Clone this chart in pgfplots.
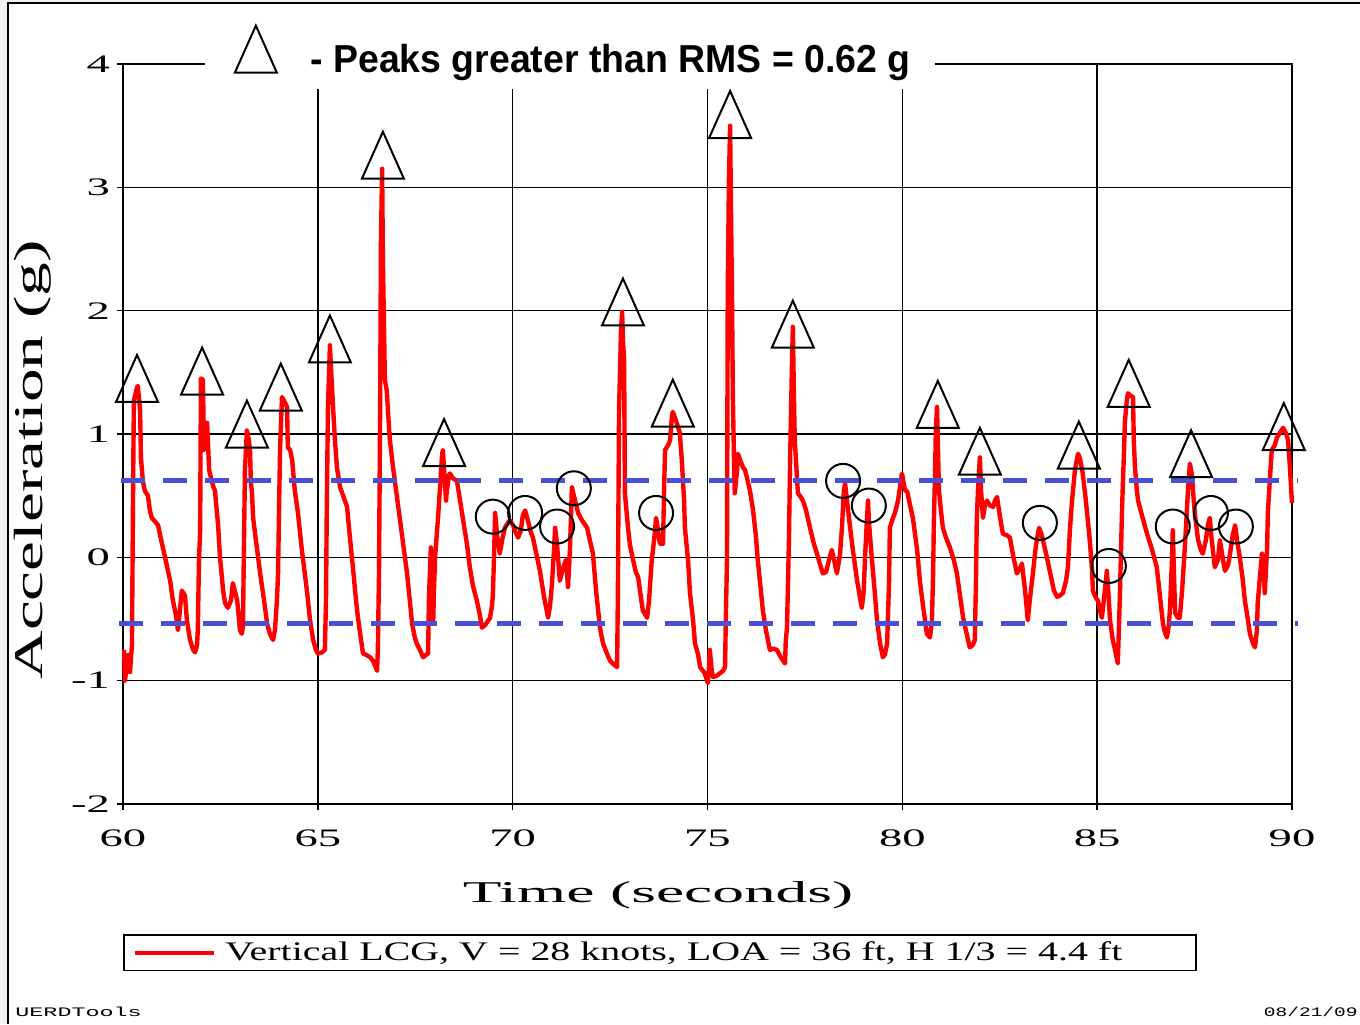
\documentclass[border=0pt]{standalone}
\usepackage{fontspec}
\setmainfont{Liberation Serif}
\newfontfamily\tickfont[FakeStretch=1.85]{Liberation Serif}
\newfontfamily\xlabfont[FakeStretch=2.1]{Liberation Serif}
\newfontfamily\ylabfont[FakeStretch=1.65]{Liberation Serif}
\newfontfamily\legfont[FakeStretch=1.49]{Liberation Serif}
\newfontfamily\titlefont[FakeStretch=0.96]{Liberation Sans}
\newfontfamily\footfont[FakeStretch=1.5]{Liberation Mono}
\newfontfamily\footwfont[FakeStretch=1.8]{Liberation Mono}
\usepackage{pgfplots}
\pgfplotsset{compat=1.18}
\definecolor{rmsblue}{RGB}{72,80,216}
\pgfdeclareplotmark{peaktri}{%
  \pgfpathmoveto{\pgfqpoint{-10.5pt}{0pt}}%
  \pgfpathlineto{\pgfqpoint{10.5pt}{0pt}}%
  \pgfpathlineto{\pgfqpoint{0pt}{23.5pt}}%
  \pgfpathclose\pgfusepathqstroke}
\begin{document}
\begin{tikzpicture}
\useasboundingbox (-61.5pt,-110pt) rectangle (618.5pt,402pt);
\fill[black!6] (-61.5pt,-110pt) rectangle (-57.5pt,402pt);
\fill[black!6] (-61.5pt,400.5pt) rectangle (618.5pt,402pt);
\draw[black,line width=1pt] (-57.5pt,-110pt) -- (-57.5pt,400.5pt) -- (618.5pt,400.5pt);
\begin{axis}[
  at={(0pt,0pt)}, anchor=south west,
  scale only axis, width=584.5pt, height=370pt,
  xmin=60, xmax=90, ymin=-2, ymax=4,
  xtick={60,65,...,90}, ytick={-2,-1,0,1,2,3,4},
  tick pos=left, tick align=outside, major tick length=3pt,
  grid=major, grid style={black, line width=0.8pt},
  axis line style={black, line width=0.8pt},
  tick style={black, line width=0.8pt},
  clip=false,
  /pgf/number format/assume math mode=true,
  ticklabel style={font=\tickfont\fontsize{12.6}{12.6}\selectfont},
  xticklabel style={yshift=-6.5pt},
  legend style={at={(0,-0.1757)}, anchor=north west, draw=black, line width=0.8pt,
    fill=white, inner xsep=4.5pt, inner ysep=3.5pt, column sep=4.5pt,
    nodes={inner sep=0pt}, cells={anchor=west},
    font=\legfont\fontsize{13.4}{13.4}\selectfont},
  legend image code/.code={\draw[red, line width=2.2pt] (0pt,0pt) -- (39.5pt,0pt);},
]
% white box behind the title
\fill[white] (axis cs:62.10,3.80) rectangle (axis cs:80.84,4.27);

\addplot[red, line width=2.2pt, line join=round] coordinates {
(60.03,-0.75) (60.05,-1.00) (60.13,-0.79) (60.18,-0.93) (60.23,-0.71) (60.26,0.62) (60.28,1.27) (60.36,1.38) (60.38,1.39) (60.44,1.19)
(60.46,0.81) (60.51,0.62) (60.56,0.54) (60.64,0.50) (60.69,0.38) (60.74,0.32) (60.85,0.28) (60.90,0.26) (60.98,0.14) (61.08,0)
(61.21,-0.19) (61.28,-0.35) (61.36,-0.47) (61.41,-0.59) (61.46,-0.43) (61.51,-0.27) (61.59,-0.31) (61.64,-0.51) (61.72,-0.67) (61.80,-0.75)
(61.85,-0.77) (61.90,-0.71) (61.92,-0.59) (61.95,-0.02) (61.98,0.22) (62.00,1.45) (62.05,1.44) (62.08,0.87) (62.13,0.95) (62.16,1.09)
(62.21,0.71) (62.23,0.68) (62.31,0.58) (62.36,0.54) (62.44,0.26) (62.49,0) (62.57,-0.27) (62.62,-0.37) (62.69,-0.41) (62.77,-0.35)
(62.82,-0.21) (62.87,-0.27) (62.93,-0.35) (62.98,-0.51) (63.00,-0.59) (63.05,-0.62) (63.08,-0.55) (63.10,0) (63.13,0.71) (63.18,1.03)
(63.23,0.95) (63.26,0.87) (63.28,0.62) (63.31,0.52) (63.34,0.32) (63.41,0.14) (63.52,-0.13) (63.62,-0.35) (63.70,-0.54) (63.77,-0.62)
(63.85,-0.67) (63.90,-0.59) (63.95,-0.35) (63.98,-0.13) (64.00,0.30) (64.03,0.87) (64.08,1.30) (64.13,1.27) (64.21,1.22) (64.23,0.89)
(64.29,0.87) (64.34,0.79) (64.41,0.54) (64.49,0.36) (64.59,0.06) (64.72,-0.27) (64.80,-0.51) (64.88,-0.67) (64.95,-0.75) (65.00,-0.78)
(65.11,-0.77) (65.18,-0.75) (65.21,-0.35) (65.23,0.41) (65.26,1.22) (65.31,1.72) (65.34,1.52) (65.39,1.22) (65.44,0.95) (65.49,0.73)
(65.57,0.57) (65.65,0.50) (65.75,0.41) (65.83,0.14) (65.90,-0.08) (65.98,-0.35) (66.03,-0.49) (66.11,-0.67) (66.16,-0.78) (66.24,-0.79)
(66.34,-0.81) (66.42,-0.84) (66.47,-0.88) (66.52,-0.92) (66.54,-0.75) (66.57,-0.13) (66.60,1.27) (66.62,2.57) (66.65,3.15) (66.67,2.41)
(66.70,1.84) (66.72,1.44) (66.77,1.35) (66.83,1.03) (66.85,0.95) (66.93,0.73) (67.01,0.54) (67.11,0.30) (67.21,0.06) (67.29,-0.13)
(67.36,-0.35) (67.42,-0.54) (67.49,-0.65) (67.54,-0.70) (67.62,-0.75) (67.70,-0.81) (67.78,-0.79) (67.83,-0.78) (67.85,-0.35) (67.90,0.08)
(67.93,-0.35) (67.96,-0.54) (67.98,-0.27) (68.01,0) (68.06,0.22) (68.08,0.30) (68.13,0.54) (68.19,0.84) (68.21,0.87) (68.24,0.71)
(68.29,0.46) (68.31,0.54) (68.37,0.67) (68.39,0.68) (68.47,0.64) (68.57,0.62) (68.65,0.46) (68.72,0.32) (68.83,0.10) (68.90,-0.08)
(68.98,-0.23) (69.08,-0.35) (69.16,-0.47) (69.21,-0.57) (69.29,-0.55) (69.42,-0.49) (69.47,-0.39) (69.49,-0.32) (69.52,-0.02) (69.55,0.36)
(69.60,0.18) (69.67,0.03) (69.73,0.14) (69.80,0.24) (69.88,0.28) (69.93,0.30) (70.01,0.26) (70.08,0.20) (70.14,0.16) (70.21,0.22)
(70.26,0.34) (70.32,0.38) (70.39,0.30) (70.47,0.20) (70.52,0.16) (70.60,0.04) (70.70,-0.11) (70.80,-0.31) (70.91,-0.49) (70.96,-0.39)
(71.01,-0.21) (71.06,0.06) (71.09,0.24) (71.14,0.10) (71.21,-0.19) (71.29,-0.09) (71.37,-0.02) (71.42,-0.24) (71.47,0.06) (71.52,0.57)
(71.57,0.50) (71.68,0.36) (71.78,0.30) (71.91,0.24) (71.98,0.14) (72.06,0.03) (72.14,-0.27) (72.24,-0.57) (72.32,-0.70) (72.42,-0.78)
(72.50,-0.84) (72.60,-0.87) (72.68,-0.89) (72.70,-0.29) (72.73,1.19) (72.78,1.84) (72.81,1.99) (72.83,1.76) (72.86,1.60) (72.88,0.52)
(72.96,0.24) (73.01,0.10) (73.09,-0.02) (73.16,-0.12) (73.22,-0.16) (73.29,-0.32) (73.34,-0.43) (73.45,-0.49) (73.50,-0.35) (73.57,-0.02)
(73.63,0.14) (73.68,0.32) (73.73,0.22) (73.78,0.11) (73.86,0.11) (73.88,0.46) (73.91,0.87) (73.99,0.91) (74.04,0.95) (74.09,1.15)
(74.11,1.18) (74.19,1.11) (74.29,1.01) (74.34,0.79) (74.40,0.46) (74.42,0.24) (74.50,-0.02) (74.55,-0.29) (74.63,-0.51) (74.68,-0.70)
(74.76,-0.79) (74.81,-0.89) (74.88,-0.92) (74.93,-0.94) (75.01,-1.02) (75.04,-0.88) (75.06,-0.75) (75.11,-0.92) (75.14,-0.97) (75.24,-0.96)
(75.32,-0.94) (75.40,-0.92) (75.45,-0.89) (75.47,-0.51) (75.50,-0.02) (75.52,2.19) (75.55,3.06) (75.58,3.50) (75.60,2.90) (75.63,2.08)
(75.65,1.33) (75.68,0.79) (75.70,0.52) (75.76,0.71) (75.78,0.84) (75.86,0.77) (75.91,0.73) (75.96,0.71) (76.01,0.65) (76.09,0.54)
(76.17,0.38) (76.24,0.18) (76.29,-0.02) (76.37,-0.27) (76.42,-0.43) (76.50,-0.59) (76.60,-0.75) (76.68,-0.74) (76.78,-0.75) (76.88,-0.81)
(76.99,-0.86) (77.01,-0.67) (77.04,-0.57) (77.09,0.14) (77.12,0.79) (77.17,1.60) (77.19,1.87) (77.22,1.27) (77.24,0.95) (77.27,0.79)
(77.32,0.52) (77.37,0.50) (77.45,0.46) (77.53,0.38) (77.63,0.24) (77.73,0.11) (77.81,0.03) (77.89,-0.06) (77.96,-0.13) (78.04,-0.12)
(78.12,-0.02) (78.19,0.06) (78.25,-0.02) (78.32,-0.13) (78.40,0.02) (78.45,0.24) (78.50,0.54) (78.53,0.60) (78.58,0.46) (78.66,0.24)
(78.73,0.06) (78.84,-0.19) (78.91,-0.32) (78.96,-0.41) (79.01,-0.27) (79.04,-0.02) (79.09,0.30) (79.12,0.46) (79.14,0.30) (79.22,-0.02)
(79.30,-0.31) (79.35,-0.51) (79.43,-0.70) (79.50,-0.81) (79.55,-0.79) (79.61,-0.70) (79.66,-0.19) (79.68,0.24) (79.76,0.32) (79.81,0.36)
(79.89,0.46) (79.94,0.57) (79.99,0.68) (80.07,0.54) (80.12,0.54) (80.20,0.42) (80.27,0.32) (80.38,0.06) (80.45,-0.19) (80.53,-0.39)
(80.63,-0.62) (80.71,-0.65) (80.76,-0.51) (80.79,-0.13) (80.81,0.30) (80.84,0.68) (80.86,1.03) (80.89,1.22) (80.91,0.95) (80.94,0.54)
(80.99,0.38) (81.04,0.24) (81.12,0.16) (81.22,0.08) (81.32,-0.02) (81.40,-0.13) (81.48,-0.31) (81.56,-0.49) (81.63,-0.59) (81.73,-0.73)
(81.81,-0.71) (81.86,-0.67) (81.89,-0.19) (81.91,0.30) (81.94,0.54) (81.99,0.81) (82.02,0.54) (82.07,0.32) (82.12,0.42) (82.17,0.46)
(82.25,0.42) (82.33,0.41) (82.38,0.46) (82.43,0.49) (82.50,0.34) (82.58,0.19) (82.68,0.18) (82.76,0.16) (82.84,0.02) (82.94,-0.13)
(83.02,-0.09) (83.07,-0.05) (83.15,-0.27) (83.22,-0.51) (83.27,-0.35) (83.35,-0.13) (83.43,0.10) (83.51,0.24) (83.58,0.18) (83.71,0)
(83.81,-0.15) (83.89,-0.27) (83.97,-0.32) (84.04,-0.31) (84.12,-0.29) (84.20,-0.19) (84.25,-0.08) (84.30,0.22) (84.35,0.44) (84.43,0.71)
(84.51,0.84) (84.56,0.80) (84.63,0.68) (84.71,0.46) (84.81,0.14) (84.87,-0.11) (84.89,-0.27) (84.97,-0.33) (85.02,-0.35) (85.07,-0.43)
(85.12,-0.49) (85.17,-0.35) (85.25,-0.11) (85.30,-0.35) (85.33,-0.51) (85.40,-0.67) (85.46,-0.75) (85.53,-0.86) (85.58,-0.35) (85.64,0.41)
(85.69,0.87) (85.71,1.09) (85.76,1.27) (85.79,1.33) (85.86,1.31) (85.92,1.30) (85.94,0.95) (85.97,0.73) (86.02,0.54) (86.05,0.46)
(86.15,0.34) (86.28,0.19) (86.41,0.06) (86.53,-0.08) (86.61,-0.31) (86.69,-0.54) (86.74,-0.61) (86.79,-0.65) (86.84,-0.55) (86.87,-0.41)
(86.92,-0.02) (86.94,0.22) (86.97,-0.11) (87.00,-0.45) (87.07,-0.49) (87.12,-0.49) (87.18,-0.27) (87.25,0.08) (87.33,0.54) (87.38,0.76)
(87.43,0.67) (87.46,0.54) (87.51,0.34) (87.59,0.14) (87.66,0.06) (87.71,0.03) (87.79,0.14) (87.84,0.26) (87.89,0.32) (87.94,0.14)
(88.02,-0.08) (88.10,-0.02) (88.15,0.14) (88.23,-0.02) (88.28,-0.11) (88.36,-0.06) (88.41,0.03) (88.48,0.18) (88.54,0.26) (88.59,0.14)
(88.66,0) (88.74,-0.19) (88.79,-0.35) (88.87,-0.51) (88.92,-0.62) (89.00,-0.70) (89.05,-0.73) (89.10,-0.59) (89.12,-0.37) (89.18,-0.15)
(89.23,0.03) (89.28,-0.15) (89.30,-0.29) (89.36,0.06) (89.38,0.36) (89.43,0.62) (89.48,0.87) (89.56,0.91) (89.61,0.97) (89.69,1.01)
(89.77,1.05) (89.84,1.01) (89.90,0.95) (89.95,0.71) (90.00,0.44)
};
\addlegendentry{\makebox[481pt][l]{Vertical LCG, V = 28 knots, LOA = 36 ft, H 1/3 = 4.4 ft}}

% RMS bands
\addplot[rmsblue, line width=2.5pt, dash pattern=on 12pt off 9pt, forget plot] coordinates {(59.95,0.62) (90.15,0.62)};
\addplot[rmsblue, line width=2.5pt, dash pattern=on 12pt off 9pt, forget plot] coordinates {(59.90,-0.54) (90.15,-0.54)};

% peaks greater than RMS
\addplot[only marks, mark=peaktri, black, line width=1pt, forget plot] coordinates {
(60.36,1.26) (62.03,1.32) (63.18,0.89) (64.05,1.19) (65.31,1.58) (66.67,3.07) (68.24,0.74) (72.83,1.88) (74.11,1.06)
(75.58,3.40) (77.19,1.70) (80.91,1.05) (81.99,0.67) (84.53,0.72) (85.81,1.22) (87.41,0.65) (89.79,0.87)
};
% smaller peaks
\addplot[only marks, mark=o, mark size=8.5pt, black, line width=1pt, forget plot] coordinates {
(69.49,0.33) (70.32,0.36) (71.14,0.25) (71.57,0.56) (73.68,0.36) (78.48,0.62) (79.14,0.42) (83.53,0.28)
(85.30,-0.07) (86.94,0.25) (87.92,0.36) (88.56,0.25)
};
% title key
\addplot[only marks, mark=peaktri, black, line width=1pt, forget plot] coordinates {(63.41,3.93)};
\node[anchor=base west, inner sep=0pt, font=\titlefont\bfseries\fontsize{19.5}{19.5}\selectfont]
  at (axis cs:64.80,3.93) {- Peaks greater than RMS = 0.62 g};
\end{axis}
\node[anchor=base, inner sep=0pt, font=\xlabfont\fontsize{15.1}{15.1}\selectfont] at (267.5pt,-49pt) {Time (seconds)};
\node[anchor=base, rotate=90, inner sep=0pt, font=\ylabfont\fontsize{20.4}{20.4}\selectfont] at (-40pt,172pt) {Acceleration (g)};
\node[anchor=base west, inner sep=0pt, font=\footwfont\fontsize{6.5}{6.5}\selectfont] at (-54pt,-106pt) {UERDTools};
\node[anchor=base east, inner sep=0pt, font=\footfont\fontsize{6.5}{6.5}\selectfont] at (617.5pt,-106pt) {08/21/09};
\end{tikzpicture}
\end{document}
